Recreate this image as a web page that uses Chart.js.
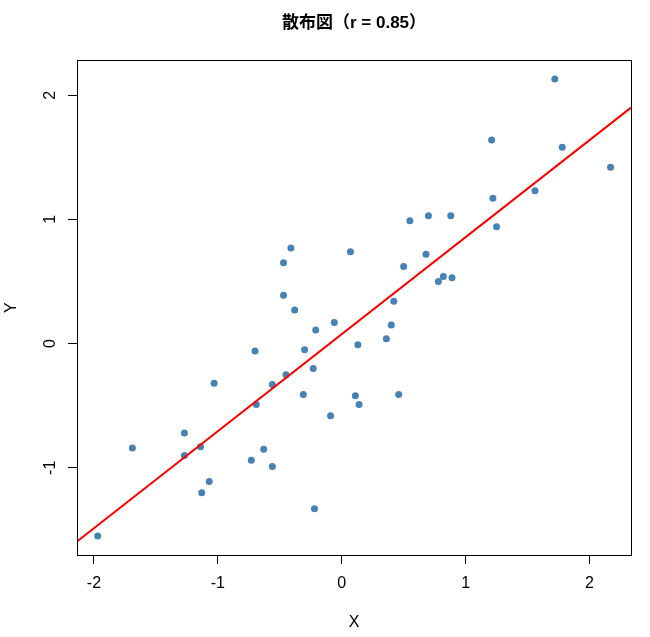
<!DOCTYPE html>
<html lang="ja">
<head>
    <meta charset="UTF-8">
    <title>散布図</title>
    <script src="https://cdn.jsdelivr.net/npm/chart.js"></script>
    <style>
        body { margin: 0; background: #fff; }
        .chart-box { width: 650px; height: 637px; }
    </style>
</head>
<body>
    <div class="chart-box">
        <canvas id="scatterChart"></canvas>
    </div>

    <script>
        // points
        const xValues = [-0.41, -0.47, 0.07, -0.47, 1.72, 1.21, 1.78, 2.17, 1.56, 1.22,
                         1.25, 0.55, 0.70, 0.88, 0.68, 0.50, 0.78, 0.82, 0.89, 0.42,
                         -0.38, -0.06, -0.21, 0.13, -0.30, -0.70, -0.23, -0.45, -0.56, -1.03,
                         -0.31, -0.69, 0.11, 0.14, -0.09, -1.27, -1.69, -1.14, -1.27, -0.63,
                         -0.73, -0.56, -1.07, -1.13, -0.22, -1.97, 0.40, 0.36, 0.46];
        const yValues = [0.77, 0.65, 0.74, 0.39, 2.13, 1.64, 1.58, 1.42, 1.23, 1.17,
                         0.94, 0.99, 1.03, 1.03, 0.72, 0.62, 0.50, 0.54, 0.53, 0.34,
                         0.27, 0.17, 0.11, -0.01, -0.05, -0.06, -0.20, -0.25, -0.33, -0.32,
                         -0.41, -0.49, -0.42, -0.49, -0.58, -0.72, -0.84, -0.83, -0.90, -0.85,
                         -0.94, -0.99, -1.11, -1.20, -1.33, -1.55, 0.15, 0.04, -0.41];

        // regression line (intercept, slope)
        const fitLine = [0.076, 0.781];

        const xTicks = [-2, -1, 0, 1, 2];
        const yTicks = [-1, 0, 1, 2];
        const xRange = [-2.137, 2.335];
        const yRange = [-1.702, 2.280];

        const points = xValues.map((x, i) => ({ x: x, y: yValues[i] }));
        const linePoints = xRange.map(x => ({ x: x, y: fitLine[0] + fitLine[1] * x }));

        Chart.defaults.font.family = "'Liberation Sans', Arial, sans-serif";
        Chart.defaults.font.size = 16;
        Chart.defaults.color = '#000';

        // R style box around the plot region
        const boxPlugin = {
            id: 'plotBox',
            afterDraw(chart) {
                const a = chart.chartArea;
                const ctx = chart.ctx;
                ctx.save();
                ctx.strokeStyle = '#000';
                ctx.lineWidth = 1;
                ctx.strokeRect(Math.round(a.left) + 0.5, Math.round(a.top) + 0.5,
                    Math.round(a.right - a.left), Math.round(a.bottom - a.top));
                ctx.restore();
            }
        };

        const ctx = document.getElementById('scatterChart').getContext('2d');
        new Chart(ctx, {
            type: 'scatter',
            data: {
                datasets: [
                    {
                        type: 'line',
                        data: linePoints,
                        borderColor: '#ff0000',
                        borderWidth: 2,
                        pointRadius: 0,
                        fill: false
                    },
                    {
                        data: points,
                        backgroundColor: '#4682B4',
                        borderWidth: 0,
                        pointRadius: 3.5
                    }
                ]
            },
            options: {
                responsive: true,
                maintainAspectRatio: false,
                animation: false,
                layout: { padding: { top: 0, right: 19, left: 0, bottom: 0 } },
                plugins: {
                    legend: { display: false },
                    tooltip: { enabled: false },
                    title: {
                        display: true,
                        fullSize: false,
                        text: '散布図（r = 0.85）',
                        font: { family: "'Liberation Sans', 'Noto Sans CJK JP', sans-serif", size: 17, weight: 'bold' },
                        padding: { top: 13, bottom: 27 }
                    }
                },
                scales: {
                    x: {
                        type: 'linear',
                        min: xRange[0],
                        max: xRange[1],
                        afterBuildTicks: s => { s.ticks = xTicks.map(v => ({ value: v })); },
                        afterFit: s => { s.height = 82; },
                        grid: { drawOnChartArea: false, drawTicks: true, tickLength: 9, color: '#000' },
                        border: { display: false },
                        ticks: { padding: 10, maxRotation: 0 },
                        title: { display: true, text: 'X', padding: { top: 0, bottom: 5 } }
                    },
                    y: {
                        type: 'linear',
                        min: yRange[0],
                        max: yRange[1],
                        afterBuildTicks: s => { s.ticks = yTicks.map(v => ({ value: v })); },
                        afterFit: s => { s.width = 77; },
                        grid: { drawOnChartArea: false, drawTicks: true, tickLength: 9, color: '#000' },
                        border: { display: false },
                        ticks: { padding: 10, minRotation: 90, maxRotation: 90, crossAlign: 'center' },
                        title: { display: true, text: 'Y', padding: { top: 2, bottom: 0 } }
                    }
                }
            },
            plugins: [boxPlugin]
        });
    </script>
</body>
</html>
